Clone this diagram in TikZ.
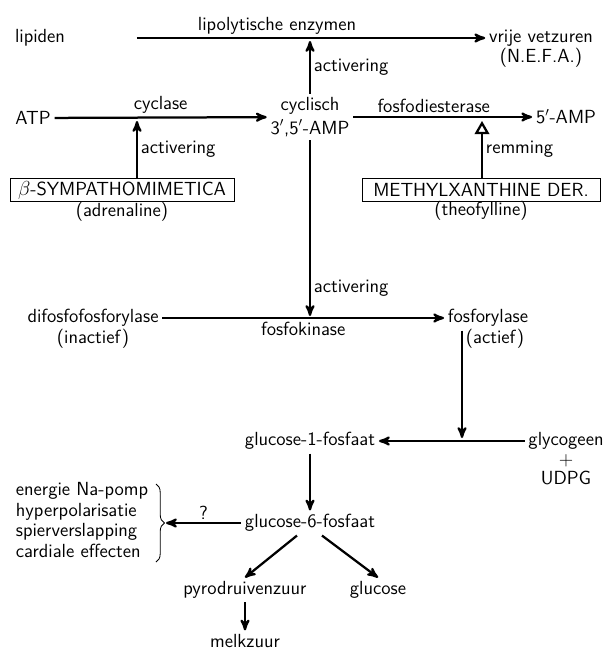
\documentclass[tikz,border=0pt]{standalone}
\usepackage{tikz}
\usetikzlibrary{arrows,decorations.pathreplacing}

\begin{document}
\begin{tikzpicture}[->,>=stealth',x=0.25mm,y=-0.25mm,line width=1.6pt,
  font=\sffamily\fontsize{13.5}{14.5}\selectfont,
  stof/.style={inner sep=2pt,align=center},
  doos/.style={draw,line width=0.5pt,rectangle,minimum height=5.75mm,inner sep=2pt},
  lbl/.style={inner sep=2pt}]

  \useasboundingbox (0,0) rectangle (607,651);

  % bovenste rij
  \node[stof] (lipiden) at (40,38) {lipiden};
  \node[stof,label={[stof,yshift=4pt]below:(N.E.F.A.)}] (vetzuren) at (541,38) {vrije vetzuren};
  \node[stof] (ATP) at (33,118) {ATP};
  \node[stof] (cAMP) at (310,117) {cyclisch\\[2pt]3$'$,5$'$-AMP};
  \node[stof] (AMP) at (566,117) {5$'$-AMP};

  \node[doos,minimum width=56mm,label={[stof,yshift=3pt]below:(adrenaline)}] (beta) at (122,190) {$\beta$-SYMPATHOMIMETICA};
  \node[doos,minimum width=59.5mm,label={[stof,yshift=3pt]below:(theofylline)}] (methyl) at (481,190) {METHYLXANTHINE DER.};

  % middelste rij
  \node[stof,label={[stof,yshift=4pt]below:(inactief)}] (difos) at (93,318) {difosfofosforylase};
  \node[stof,label={[stof,yshift=4pt,xshift=5pt]below:(actief)}] (fosfo) at (488,318) {fosforylase};

  % glycogeen
  \node[stof] (g1p) at (310,441) {glucose-1-fosfaat};
  \node[stof,label={[align=center,inner sep=0pt]below:{+\\[-1pt]UDPG}}] (glyc) at (566,441) {glycogeen};
  \node[stof] (g6p) at (310,523) {glucose-6-fosfaat};
  \node[stof,align=left] (effecten) at (82,520) {energie Na-pomp\\hyperpolarisatie\\spierverslapping\\cardiale effecten};
  \node[stof] (pyro) at (245,590) {pyrodruivenzuur};
  \node[stof] (glucose) at (378,590) {glucose};
  \node[stof] (melk) at (245,641) {melkzuur};

  \coordinate (lipLijn) at (310,41);
  \coordinate (cycLijn) at (137,121);
  \coordinate (diesLijn) at (482,121);
  \coordinate (kinLijn) at (310,316);
  \coordinate (glyLijn) at (462,438);
  \coordinate (haak) at (166,523);

  \draw[-,line width=0.6pt,decorate,decoration={brace,amplitude=6pt}]
    (156,484) -- (156,562);

  \path[every node/.style={lbl}]
    (lipiden) edge[shorten <=17mm] node[above] {lipolytische enzymen} (vetzuren)
    (ATP) edge node[above] {cyclase} (cAMP)
    (cAMP) edge node[above,pos=.45] {fosfodiesterase} (AMP)
    (cAMP) edge node[right] {activering} (lipLijn)
    (cAMP) edge node[right,pos=.84] {activering} (kinLijn)
    (beta.north -| cycLijn) edge node[right] {activering} (cycLijn)
    (methyl.north -| diesLijn) edge[-open triangle 60] node[right] {remming} (diesLijn)
    (difos) edge node[below] {fosfokinase} (fosfo)
    (fosfo.south -| glyLijn) edge (glyLijn)
    (glyc) edge (g1p)
    (g1p) edge (g6p)
    (g6p) edge node[above] {?} (haak)
    ([xshift=-3.25mm]g6p.south) edge (pyro.north)
    ([xshift=3mm]g6p.south) edge (glucose.north)
    (pyro) edge (melk);

\end{tikzpicture}
\end{document}
